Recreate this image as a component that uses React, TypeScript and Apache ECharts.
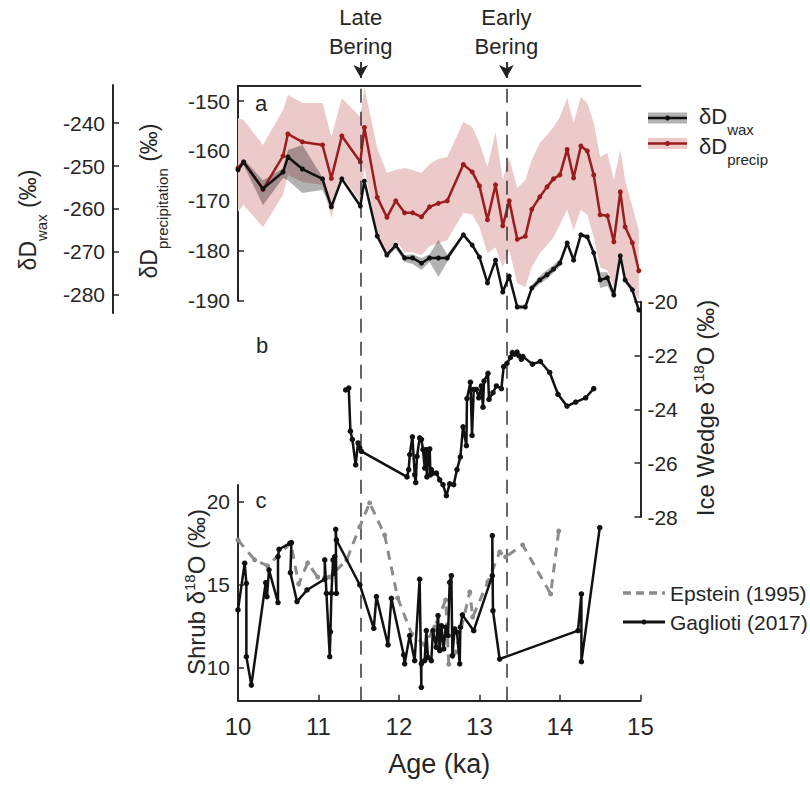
import React, { useEffect, useRef } from "react";
import * as echarts from "echarts";

// ---------- Panel a: leaf wax / precipitation dD ----------
const ages = [10.00,10.07,10.31,10.56,10.62,10.80,11.05,11.16,11.29,11.52,11.57,11.73,11.85,11.96,12.07,12.17,12.28,12.38,12.49,12.60,12.80,12.91,13.00,13.10,13.20,13.29,13.37,13.47,13.57,13.65,13.75,13.84,13.92,14.00,14.09,14.17,14.26,14.34,14.42,14.50,14.59,14.67,14.75,14.81,14.90,14.98];
const precip = [-163.4,-162.2,-167.7,-161.0,-156.6,-158.2,-158.8,-165.5,-157.0,-162.2,-155.3,-169.3,-173.3,-170.0,-172.4,-172.4,-173.2,-171.2,-170.5,-170.0,-162.7,-164.2,-167.0,-173.8,-166.8,-175.0,-170.0,-177.7,-177.1,-171.7,-169.2,-167.2,-165.6,-164.8,-159.7,-165.4,-159.0,-160.0,-164.8,-172.8,-173.0,-178.2,-168.2,-175.2,-178.4,-184.0];
const precipUpper = [-153.4,-153.8,-158.8,-151.8,-148.8,-150.4,-150.4,-157.2,-149.4,-153.2,-147.2,-159.4,-164.4,-163.8,-163.4,-163.8,-164.4,-162.6,-161.6,-161.2,-154.2,-155.2,-158.4,-163.2,-156.2,-165.8,-161.4,-167.4,-165.8,-161.8,-158.4,-156.8,-155.2,-153.2,-149.4,-154.4,-149.2,-150.4,-154.4,-161.2,-160.4,-165.8,-159.8,-165.8,-171.2,-175.9];
const precipLower = [-172.2,-170.8,-175.3,-168.8,-164.8,-166.2,-166.8,-173.4,-165.0,-170.2,-163.4,-176.9,-180.9,-177.9,-180.3,-180.3,-180.9,-179.1,-178.5,-177.9,-172.4,-172.8,-175.3,-180.5,-179.3,-183.3,-179.9,-186.5,-187.3,-183.3,-180.5,-178.9,-177.3,-174.8,-171.8,-175.9,-171.8,-172.8,-177.3,-183.3,-183.9,-187.3,-180.5,-184.9,-187.3,-189.9];
const wax = [-250.9,-249.1,-255.3,-251.4,-247.9,-250.7,-253.0,-259.5,-253.0,-259.3,-253.5,-266.3,-270.7,-268.4,-271.4,-271.4,-272.6,-271.4,-271.4,-271.4,-266.0,-268.4,-271.2,-277.2,-271.9,-279.3,-275.6,-282.8,-282.8,-278.4,-276.5,-275.3,-274.0,-272.6,-267.9,-271.9,-266.0,-266.5,-270.2,-276.5,-276.0,-280.0,-270.9,-276.5,-278.8,-283.5];
const waxUpper = [-250.2,-248.4,-253.3,-250.5,-246.3,-245.1,-252.6,-259.1,-252.6,-258.8,-253.0,-265.8,-270.2,-267.9,-270.7,-270.5,-271.4,-270.5,-267.2,-270.5,-265.6,-267.9,-270.7,-276.7,-271.4,-278.8,-275.1,-282.3,-282.3,-277.7,-275.6,-274.2,-273.0,-271.6,-267.4,-271.4,-265.6,-266.0,-269.5,-274.7,-274.7,-279.3,-270.2,-275.8,-278.1,-282.8];
const waxLower = [-251.6,-249.8,-259.1,-252.8,-253.3,-256.3,-255.6,-260.0,-253.5,-259.8,-254.0,-266.7,-271.2,-269.3,-272.3,-272.8,-274.2,-272.3,-275.8,-272.3,-266.5,-268.8,-271.6,-277.7,-272.3,-279.8,-276.0,-283.3,-283.3,-279.1,-277.4,-276.3,-274.9,-273.3,-268.4,-272.3,-266.5,-267.0,-270.9,-278.4,-277.9,-280.7,-271.6,-277.2,-279.5,-284.2];

// ---------- Panel b: ice wedge d18O ----------
const iceAges = [11.338,11.376,11.397,11.421,11.462,11.491,11.512,11.533,12.100,12.121,12.134,12.167,12.196,12.208,12.224,12.258,12.279,12.299,12.320,12.333,12.348,12.370,12.382,12.391,12.403,12.423,12.465,12.506,12.547,12.589,12.630,12.680,12.721,12.763,12.796,12.838,12.845,12.888,12.908,12.929,12.962,12.991,13.024,13.044,13.057,13.106,13.119,13.168,13.211,13.273,13.301,13.342,13.385,13.409,13.438,13.467,13.492,13.521,13.541,13.658,13.757,13.873,13.976,14.088,14.196,14.320,14.420];
const iceValues = [-23.28,-23.21,-24.81,-25.12,-26.06,-25.25,-25.43,-25.56,-26.51,-26.24,-25.68,-25.02,-26.43,-26.72,-25.75,-25.06,-25.12,-25.50,-26.18,-25.50,-26.51,-25.50,-25.47,-26.43,-26.24,-26.37,-26.37,-26.62,-26.80,-27.21,-26.77,-26.80,-26.24,-25.77,-24.65,-25.35,-23.60,-22.99,-24.97,-23.26,-23.26,-23.57,-23.13,-23.92,-22.95,-22.66,-23.63,-23.38,-23.13,-23.23,-22.41,-22.29,-22.07,-21.89,-21.95,-21.87,-22.01,-22.14,-22.04,-22.32,-22.22,-22.63,-23.44,-23.88,-23.73,-23.57,-23.23];

// ---------- Panel c: shrub d18O ----------
const gagAges = [10.000,10.083,10.104,10.104,10.166,10.344,10.360,10.385,10.497,10.497,10.510,10.643,10.664,10.651,10.733,10.858,11.078,11.078,11.099,11.140,11.149,11.161,11.181,11.190,11.202,11.223,11.214,11.223,11.514,11.687,11.720,11.864,11.906,12.059,12.071,12.133,12.195,12.257,12.278,12.278,12.319,12.340,12.360,12.402,12.422,12.464,12.485,12.506,12.527,12.556,12.581,12.610,12.630,12.651,12.664,12.692,12.721,12.755,12.763,12.788,12.929,13.160,13.160,13.168,13.251,14.225,14.267,14.267,14.495];
const gagValues = [13.48,16.29,15.08,10.66,8.95,15.12,14.28,15.89,13.92,16.69,17.13,17.49,17.53,15.72,13.98,14.68,15.33,16.49,14.48,10.66,12.16,14.48,16.49,15.68,16.69,14.48,18.33,17.69,14.98,12.37,14.28,11.37,14.18,10.77,10.23,11.93,10.42,15.33,8.82,10.23,10.42,12.23,10.62,10.42,12.23,11.23,13.14,11.03,12.53,11.13,12.44,11.93,15.14,15.54,10.72,12.33,12.13,10.23,12.44,13.18,12.23,15.54,17.95,13.43,10.52,12.23,14.44,10.36,18.43];
const epAges = [10.000,10.207,10.369,10.655,10.754,10.866,10.990,11.139,11.351,11.512,11.636,11.822,11.984,12.158,12.320,12.444,12.581,12.619,12.706,12.880,12.917,13.104,13.252,13.326,13.537,13.885,13.985];
const epValues = [17.69,16.49,16.13,17.51,15.04,16.31,15.46,15.46,16.49,18.48,19.92,17.99,14.20,12.03,11.37,12.45,14.08,10.21,10.95,14.56,13.05,15.16,16.97,16.67,17.39,14.44,18.23];

// ---------- Annotations & ticks ----------
const boundaryAges = [11.525, 13.335];
const boundaryLabels = ["Late\nBering", "Early\nBering"];
const precipTicks = [-190, -180, -170, -160, -150];
const waxTicks = [-280, -270, -260, -250, -240];
const shrubTicks = [10, 15, 20];

const FONT = "Liberation Sans";
const INK = "#262626";
const RED = "#9b1c1c";
const PINK = "#eccaca";
const GRAYBAND = "rgba(0,0,0,0.3)";

function bandRenderer(xs: number[], hi: number[], lo: number[], fill: string) {
  return (params: any, api: any) => {
    if (params.dataIndex !== 0) return null;
    const pts: number[][] = [];
    for (let i = 0; i < xs.length; i++) pts.push(api.coord([xs[i], hi[i]]));
    for (let i = xs.length - 1; i >= 0; i--) pts.push(api.coord([xs[i], lo[i]]));
    return { type: "polygon", shape: { points: pts }, style: { fill } };
  };
}

const subRich = (main: number, sub: number) => ({
  m: { fontSize: main, fontFamily: FONT, fill: INK, padding: [0, 0, 10, 0], verticalAlign: "top" },
  s: { fontSize: sub, fontFamily: FONT, fill: INK, verticalAlign: "bottom" },
});
const supRich = (main: number, sup: number) => ({
  m: { fontSize: main, fontFamily: FONT, fill: INK, padding: [3, 0, 0, 0], verticalAlign: "bottom" },
  p: { fontSize: sup, fontFamily: FONT, fill: INK, verticalAlign: "top" },
});

const axisLine = { show: true, lineStyle: { color: INK, width: 2 } };
const axisTick = { show: true, inside: true, length: 6, lineStyle: { color: INK, width: 1.5 } };
const hiddenX = (gridIndex: number) => ({ type: "value", gridIndex, min: 10, max: 15, show: false });

export default function App() {
  const ref = useRef<HTMLDivElement>(null);
  useEffect(() => {
    if (!ref.current) return;
    const chart = echarts.init(ref.current, null, { renderer: "svg" });
    const option: any = {
      animation: false,
      textStyle: { fontFamily: FONT, color: INK },
      grid: [
        { left: 238, top: 86, width: 402.4, height: 214.7 },
        { left: 238, top: 85, width: 402.4, height: 228 },
        { left: 238, top: 301.7, width: 402.4, height: 215.3 },
        { left: 238, top: 485, width: 402.4, height: 215.7 },
        { left: 238, top: 86, width: 402.4, height: 614.7 },
        { left: 238, top: 62, width: 402.4, height: 16 },
      ],
      xAxis: [
        { type: "value", gridIndex: 0, min: 10, max: 15, interval: 1, position: "top",
          axisLine, axisTick: { show: false }, axisLabel: { show: false }, splitLine: { show: false } },
        hiddenX(1), hiddenX(2),
        { type: "value", gridIndex: 3, min: 10, max: 15, interval: 1, position: "bottom",
          axisLine, axisTick, splitLine: { show: false },
          axisLabel: { fontSize: 24, color: INK, margin: 14, fontFamily: FONT },
          name: "Age (ka)", nameLocation: "middle", nameGap: 50,
          nameTextStyle: { fontSize: 27, color: INK, fontFamily: FONT } },
        hiddenX(4), hiddenX(5),
      ],
      yAxis: [
        { type: "value", gridIndex: 0, min: -190, max: -146.99, axisLine, splitLine: { show: false },
          axisTick: { ...axisTick, customValues: precipTicks },
          axisLabel: { fontSize: 21, color: INK, margin: 8, customValues: precipTicks } },
        { type: "value", gridIndex: 1, min: -284.19, max: -231.16, offset: 125, axisLine, splitLine: { show: false },
          axisTick: { ...axisTick, customValues: waxTicks },
          axisLabel: { fontSize: 21, color: INK, margin: 8, customValues: waxTicks } },
        { type: "value", gridIndex: 2, min: -28, max: -20, interval: 2, position: "right", axisLine, axisTick,
          splitLine: { show: false }, axisLabel: { fontSize: 21, color: INK, margin: 7 } },
        { type: "value", gridIndex: 3, min: 8.012, max: 21.0, axisLine, splitLine: { show: false },
          axisTick: { ...axisTick, customValues: shrubTicks },
          axisLabel: { fontSize: 21, color: INK, margin: 8, customValues: shrubTicks } },
        { type: "value", gridIndex: 4, min: 0, max: 1, show: false },
        { type: "value", gridIndex: 5, min: 0, max: 1, show: false },
      ],
      series: [
        { type: "custom", xAxisIndex: 0, yAxisIndex: 0, z: 1, silent: true,
          data: ages.map((a, i) => [a, precipUpper[i], precipLower[i]]), encode: { x: 0, y: [1, 2] },
          renderItem: bandRenderer(ages, precipUpper, precipLower, PINK) },
        { type: "custom", xAxisIndex: 1, yAxisIndex: 1, z: 2, silent: true,
          data: ages.map((a, i) => [a, waxUpper[i], waxLower[i]]), encode: { x: 0, y: [1, 2] },
          renderItem: bandRenderer(ages, waxUpper, waxLower, GRAYBAND) },
        { type: "line", xAxisIndex: 4, yAxisIndex: 4, z: 3, silent: true, data: [], showSymbol: false,
          markLine: { silent: true, symbol: ["none", "none"], label: { show: false },
            lineStyle: { type: [14, 9], color: "#333", width: 1.5 },
            data: boundaryAges.map((a) => ({ xAxis: a })) } },
        { type: "line", xAxisIndex: 5, yAxisIndex: 5, z: 3, silent: true, data: [], showSymbol: false,
          markLine: { silent: true, symbol: ["none", "arrow"], symbolSize: [11, 13],
            lineStyle: { type: "solid", color: "#222", width: 1.8 },
            label: { show: true, position: "start", formatter: "{b}", fontSize: 22, lineHeight: 29,
              color: INK, fontFamily: FONT, distance: 1 },
            data: boundaryAges.map((a, i) => [{ coord: [a, 1], name: boundaryLabels[i] }, { coord: [a, 0] }]) } },
        { type: "line", xAxisIndex: 0, yAxisIndex: 0, z: 4, clip: false, data: ages.map((a, i) => [a, precip[i]]),
          symbol: "circle", symbolSize: 5, itemStyle: { color: RED }, lineStyle: { color: RED, width: 2.5 } },
        { type: "line", xAxisIndex: 1, yAxisIndex: 1, z: 5, clip: false, data: ages.map((a, i) => [a, wax[i]]),
          symbol: "circle", symbolSize: 5, itemStyle: { color: "#111" }, lineStyle: { color: "#111", width: 2.5 } },
        { type: "line", xAxisIndex: 2, yAxisIndex: 2, z: 5, clip: false, data: iceAges.map((a, i) => [a, iceValues[i]]),
          symbol: "circle", symbolSize: 5.5, itemStyle: { color: "#111" }, lineStyle: { color: "#111", width: 2.5 } },
        { type: "line", xAxisIndex: 3, yAxisIndex: 3, z: 5, clip: false, data: epAges.map((a, i) => [a, epValues[i]]),
          symbol: "circle", symbolSize: 5, itemStyle: { color: "#8c8c8c" },
          lineStyle: { color: "#8c8c8c", width: 3, type: [9, 7] } },
        { type: "line", xAxisIndex: 3, yAxisIndex: 3, z: 6, clip: false, data: gagAges.map((a, i) => [a, gagValues[i]]),
          symbol: "circle", symbolSize: 5.5, itemStyle: { color: "#111" }, lineStyle: { color: "#111", width: 2.5 } },
      ],
      graphic: [
        // panel letters
        { type: "text", x: 261, y: 103, style: { text: "a", fontSize: 22, fontFamily: FONT, fill: INK, align: "center", verticalAlign: "middle" } },
        { type: "text", x: 262, y: 345, style: { text: "b", fontSize: 22, fontFamily: FONT, fill: INK, align: "center", verticalAlign: "middle" } },
        { type: "text", x: 261, y: 500, style: { text: "c", fontSize: 22, fontFamily: FONT, fill: INK, align: "center", verticalAlign: "middle" } },
        // axis titles
        { type: "text", x: 32.5, y: 220, rotation: Math.PI / 2,
          style: { text: "{m|δD}{s|wax}{m| (‰)}", align: "center", verticalAlign: "middle", rich: subRich(23, 15) } },
        { type: "text", x: 153.5, y: 201, rotation: Math.PI / 2,
          style: { text: "{m|δD}{s|precipitation}{m| (‰)}", align: "center", verticalAlign: "middle", rich: subRich(23, 15) } },
        { type: "text", x: 704, y: 408, rotation: Math.PI / 2,
          style: { text: "{m|Ice Wedge δ}{p|18}{m|O (‰)}", align: "center", verticalAlign: "middle", rich: supRich(24, 15) } },
        { type: "text", x: 195, y: 592, rotation: Math.PI / 2,
          style: { text: "{m|Shrub δ}{p|18}{m|O (‰)}", align: "center", verticalAlign: "middle", rich: supRich(24, 15) } },
        // top legend
        { type: "rect", shape: { x: 648, y: 112.5, width: 39, height: 11 }, style: { fill: GRAYBAND } },
        { type: "line", shape: { x1: 648, y1: 118, x2: 687, y2: 118 }, style: { stroke: "#111", lineWidth: 2.5 } },
        { type: "circle", shape: { cx: 667.5, cy: 118, r: 2.5 }, style: { fill: "#111" } },
        { type: "rect", shape: { x: 648, y: 138, width: 39, height: 11 }, style: { fill: PINK } },
        { type: "line", shape: { x1: 648, y1: 143.5, x2: 687, y2: 143.5 }, style: { stroke: RED, lineWidth: 2.5 } },
        { type: "circle", shape: { cx: 667.5, cy: 143.5, r: 2.5 }, style: { fill: RED } },
        { type: "text", x: 699, y: 105, style: { text: "{m|δD}{s|wax}", align: "left", verticalAlign: "top", rich: subRich(22, 15) } },
        { type: "text", x: 699, y: 135, style: { text: "{m|δD}{s|precip}", align: "left", verticalAlign: "top", rich: subRich(22, 15) } },
        // bottom legend
        { type: "line", shape: { x1: 623, y1: 593, x2: 665, y2: 593 }, style: { stroke: "#8c8c8c", lineWidth: 3.5, lineDash: [8, 5] } },
        { type: "text", x: 670, y: 593, style: { text: "Epstein (1995)", fontSize: 21, fontFamily: FONT, fill: INK, align: "left", verticalAlign: "middle" } },
        { type: "line", shape: { x1: 623, y1: 622, x2: 665, y2: 622 }, style: { stroke: "#111", lineWidth: 3 } },
        { type: "circle", shape: { cx: 644, cy: 622, r: 2.5 }, style: { fill: "#111" } },
        { type: "text", x: 670, y: 622, style: { text: "Gaglioti (2017)", fontSize: 21, fontFamily: FONT, fill: INK, align: "left", verticalAlign: "middle" } },
      ],
    };
    chart.setOption(option);
    return () => chart.dispose();
  }, []);
  return <div ref={ref} style={{ position: "fixed", left: 0, top: 0, width: 810, height: 785, background: "#fff" }} />;
}
